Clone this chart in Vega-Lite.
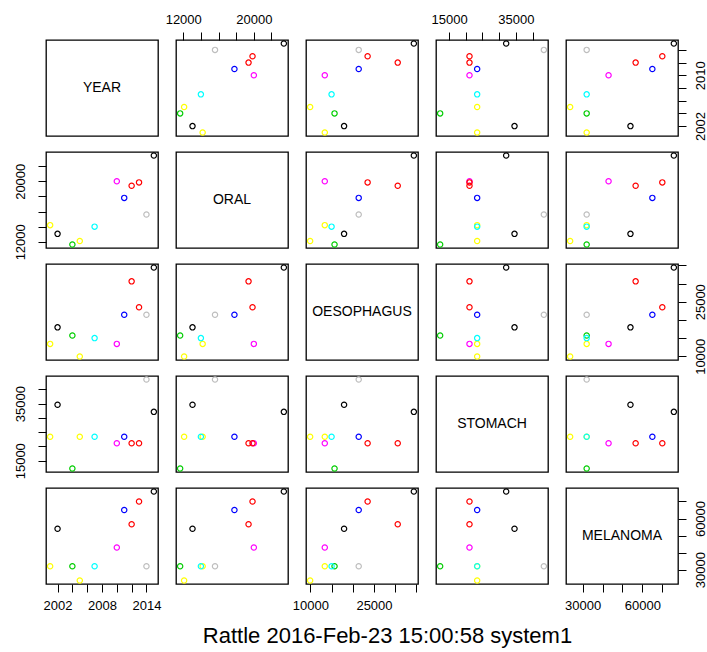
{
  "$schema": "https://vega.github.io/schema/vega-lite/v6.json",
  "padding": {"left": 13, "top": 12, "right": 0, "bottom": 5},
  "background": "white",
  "title": {"text": "Rattle 2016-Feb-23 15:00:58 system1", "orient": "bottom", "anchor": "middle", "font": "Liberation Sans", "fontSize": 22, "fontWeight": "normal", "color": "#000000", "offset": 13, "dx": 27},
  "datasets": {
    "cancer": [
      {"YEAR": 2001, "ORAL": 14200, "OESOPHAGUS": 13400, "STOMACH": 23400, "MELANOMA": 32000, "cluster": 7},
      {"YEAR": 2002, "ORAL": 13050, "OESOPHAGUS": 17950, "STOMACH": 34600, "MELANOMA": 54000, "cluster": 1},
      {"YEAR": 2004, "ORAL": 11650, "OESOPHAGUS": 15700, "STOMACH": 12300, "MELANOMA": 32000, "cluster": 3},
      {"YEAR": 2005, "ORAL": 12100, "OESOPHAGUS": 9950, "STOMACH": 23400, "MELANOMA": 23700, "cluster": 7},
      {"YEAR": 2007, "ORAL": 14000, "OESOPHAGUS": 15000, "STOMACH": 23400, "MELANOMA": 32000, "cluster": 5},
      {"YEAR": 2010, "ORAL": 20000, "OESOPHAGUS": 13400, "STOMACH": 21100, "MELANOMA": 43000, "cluster": 6},
      {"YEAR": 2011, "ORAL": 17800, "OESOPHAGUS": 21400, "STOMACH": 23400, "MELANOMA": 65000, "cluster": 4},
      {"YEAR": 2012, "ORAL": 19400, "OESOPHAGUS": 30600, "STOMACH": 21100, "MELANOMA": 56600, "cluster": 2},
      {"YEAR": 2013, "ORAL": 19850, "OESOPHAGUS": 23500, "STOMACH": 21100, "MELANOMA": 70000, "cluster": 2},
      {"YEAR": 2014, "ORAL": 15600, "OESOPHAGUS": 21400, "STOMACH": 43400, "MELANOMA": 32000, "cluster": 8},
      {"YEAR": 2015, "ORAL": 23400, "OESOPHAGUS": 34400, "STOMACH": 32100, "MELANOMA": 75800, "cluster": 1}
    ],
    "labels": [
      {"name": "YEAR"}, {"name": "ORAL"}, {"name": "OESOPHAGUS"}, {"name": "STOMACH"}, {"name": "MELANOMA"}
    ]
  },
  "data": {"name": "cancer"},
  "columns": 5,
  "spacing": {"row": 16, "column": 18},
  "bounds": "flush",
  "concat": [
    {"data": {"name": "labels"}, "transform": [{"filter": "datum.name == 'YEAR'"}], "mark": "text",
     "encoding": {"text": {"field": "name"}, "x": {"datum": 0.5, "type": "quantitative", "scale": {"domain": [0, 1]}, "axis": null}, "y": {"datum": 0.5, "type": "quantitative", "scale": {"domain": [0, 1]}, "axis": null}}},
    {"mark": "point", "encoding": {
      "x": {"field": "ORAL", "type": "quantitative", "scale": {"domain": [11180, 23870], "nice": false, "zero": false}, "axis": {"orient": "top", "title": null, "values": [12000, 14000, 16000, 18000, 20000, 22000], "labelExpr": "datum.value == 12000 || datum.value == 20000 ? '' + datum.value : ''", "labelAngle": 0, "labelPadding": 6}},
      "y": {"field": "YEAR", "type": "quantitative", "scale": {"domain": [2000.44, 2015.56], "nice": false, "zero": false}, "axis": null},
      "color": {"field": "cluster", "type": "nominal", "scale": {"domain": [1, 2, 3, 4, 5, 6, 7, 8], "range": ["#000000", "#FF0000", "#00CD00", "#0000FF", "#00FFFF", "#FF00FF", "#FFFF00", "#BEBEBE"]}, "legend": null}}},
    {"mark": "point", "encoding": {
      "x": {"field": "OESOPHAGUS", "type": "quantitative", "scale": {"domain": [8972, 35378], "nice": false, "zero": false}, "axis": null},
      "y": {"field": "YEAR", "type": "quantitative", "scale": {"domain": [2000.44, 2015.56], "nice": false, "zero": false}, "axis": null},
      "color": {"field": "cluster", "type": "nominal", "scale": {"domain": [1, 2, 3, 4, 5, 6, 7, 8], "range": ["#000000", "#FF0000", "#00CD00", "#0000FF", "#00FFFF", "#FF00FF", "#FFFF00", "#BEBEBE"]}, "legend": null}}},
    {"mark": "point", "encoding": {
      "x": {"field": "STOMACH", "type": "quantitative", "scale": {"domain": [11056, 44644], "nice": false, "zero": false}, "axis": {"orient": "top", "title": null, "values": [15000, 20000, 25000, 30000, 35000, 40000], "labelExpr": "datum.value == 15000 || datum.value == 35000 ? '' + datum.value : ''", "labelAngle": 0, "labelPadding": 6}},
      "y": {"field": "YEAR", "type": "quantitative", "scale": {"domain": [2000.44, 2015.56], "nice": false, "zero": false}, "axis": null},
      "color": {"field": "cluster", "type": "nominal", "scale": {"domain": [1, 2, 3, 4, 5, 6, 7, 8], "range": ["#000000", "#FF0000", "#00CD00", "#0000FF", "#00FFFF", "#FF00FF", "#FFFF00", "#BEBEBE"]}, "legend": null}}},
    {"mark": "point", "encoding": {
      "x": {"field": "MELANOMA", "type": "quantitative", "scale": {"domain": [21616, 77884], "nice": false, "zero": false}, "axis": null},
      "y": {"field": "YEAR", "type": "quantitative", "scale": {"domain": [2000.44, 2015.56], "nice": false, "zero": false}, "axis": {"orient": "right", "title": null, "values": [2002, 2004, 2006, 2008, 2010, 2012, 2014], "labelExpr": "datum.value == 2002 || datum.value == 2010 ? '' + datum.value : ''", "labelAngle": 270, "labelAlign": "center", "labelBaseline": "top", "labelPadding": 8}},
      "color": {"field": "cluster", "type": "nominal", "scale": {"domain": [1, 2, 3, 4, 5, 6, 7, 8], "range": ["#000000", "#FF0000", "#00CD00", "#0000FF", "#00FFFF", "#FF00FF", "#FFFF00", "#BEBEBE"]}, "legend": null}}},

    {"mark": "point", "encoding": {
      "x": {"field": "YEAR", "type": "quantitative", "scale": {"domain": [2000.44, 2015.56], "nice": false, "zero": false}, "axis": null},
      "y": {"field": "ORAL", "type": "quantitative", "scale": {"domain": [11180, 23870], "nice": false, "zero": false}, "axis": {"orient": "left", "title": null, "values": [12000, 14000, 16000, 18000, 20000, 22000], "labelExpr": "datum.value == 12000 || datum.value == 20000 ? '' + datum.value : ''", "labelAngle": 270, "labelAlign": "center", "labelBaseline": "bottom", "labelPadding": 11}},
      "color": {"field": "cluster", "type": "nominal", "scale": {"domain": [1, 2, 3, 4, 5, 6, 7, 8], "range": ["#000000", "#FF0000", "#00CD00", "#0000FF", "#00FFFF", "#FF00FF", "#FFFF00", "#BEBEBE"]}, "legend": null}}},
    {"data": {"name": "labels"}, "transform": [{"filter": "datum.name == 'ORAL'"}], "mark": "text",
     "encoding": {"text": {"field": "name"}, "x": {"datum": 0.5, "type": "quantitative", "scale": {"domain": [0, 1]}, "axis": null}, "y": {"datum": 0.5, "type": "quantitative", "scale": {"domain": [0, 1]}, "axis": null}}},
    {"mark": "point", "encoding": {
      "x": {"field": "OESOPHAGUS", "type": "quantitative", "scale": {"domain": [8972, 35378], "nice": false, "zero": false}, "axis": null},
      "y": {"field": "ORAL", "type": "quantitative", "scale": {"domain": [11180, 23870], "nice": false, "zero": false}, "axis": null},
      "color": {"field": "cluster", "type": "nominal", "scale": {"domain": [1, 2, 3, 4, 5, 6, 7, 8], "range": ["#000000", "#FF0000", "#00CD00", "#0000FF", "#00FFFF", "#FF00FF", "#FFFF00", "#BEBEBE"]}, "legend": null}}},
    {"mark": "point", "encoding": {
      "x": {"field": "STOMACH", "type": "quantitative", "scale": {"domain": [11056, 44644], "nice": false, "zero": false}, "axis": null},
      "y": {"field": "ORAL", "type": "quantitative", "scale": {"domain": [11180, 23870], "nice": false, "zero": false}, "axis": null},
      "color": {"field": "cluster", "type": "nominal", "scale": {"domain": [1, 2, 3, 4, 5, 6, 7, 8], "range": ["#000000", "#FF0000", "#00CD00", "#0000FF", "#00FFFF", "#FF00FF", "#FFFF00", "#BEBEBE"]}, "legend": null}}},
    {"mark": "point", "encoding": {
      "x": {"field": "MELANOMA", "type": "quantitative", "scale": {"domain": [21616, 77884], "nice": false, "zero": false}, "axis": null},
      "y": {"field": "ORAL", "type": "quantitative", "scale": {"domain": [11180, 23870], "nice": false, "zero": false}, "axis": null},
      "color": {"field": "cluster", "type": "nominal", "scale": {"domain": [1, 2, 3, 4, 5, 6, 7, 8], "range": ["#000000", "#FF0000", "#00CD00", "#0000FF", "#00FFFF", "#FF00FF", "#FFFF00", "#BEBEBE"]}, "legend": null}}},

    {"mark": "point", "encoding": {
      "x": {"field": "YEAR", "type": "quantitative", "scale": {"domain": [2000.44, 2015.56], "nice": false, "zero": false}, "axis": null},
      "y": {"field": "OESOPHAGUS", "type": "quantitative", "scale": {"domain": [8972, 35378], "nice": false, "zero": false}, "axis": null},
      "color": {"field": "cluster", "type": "nominal", "scale": {"domain": [1, 2, 3, 4, 5, 6, 7, 8], "range": ["#000000", "#FF0000", "#00CD00", "#0000FF", "#00FFFF", "#FF00FF", "#FFFF00", "#BEBEBE"]}, "legend": null}}},
    {"mark": "point", "encoding": {
      "x": {"field": "ORAL", "type": "quantitative", "scale": {"domain": [11180, 23870], "nice": false, "zero": false}, "axis": null},
      "y": {"field": "OESOPHAGUS", "type": "quantitative", "scale": {"domain": [8972, 35378], "nice": false, "zero": false}, "axis": null},
      "color": {"field": "cluster", "type": "nominal", "scale": {"domain": [1, 2, 3, 4, 5, 6, 7, 8], "range": ["#000000", "#FF0000", "#00CD00", "#0000FF", "#00FFFF", "#FF00FF", "#FFFF00", "#BEBEBE"]}, "legend": null}}},
    {"data": {"name": "labels"}, "transform": [{"filter": "datum.name == 'OESOPHAGUS'"}], "mark": "text",
     "encoding": {"text": {"field": "name"}, "x": {"datum": 0.5, "type": "quantitative", "scale": {"domain": [0, 1]}, "axis": null}, "y": {"datum": 0.5, "type": "quantitative", "scale": {"domain": [0, 1]}, "axis": null}}},
    {"mark": "point", "encoding": {
      "x": {"field": "STOMACH", "type": "quantitative", "scale": {"domain": [11056, 44644], "nice": false, "zero": false}, "axis": null},
      "y": {"field": "OESOPHAGUS", "type": "quantitative", "scale": {"domain": [8972, 35378], "nice": false, "zero": false}, "axis": null},
      "color": {"field": "cluster", "type": "nominal", "scale": {"domain": [1, 2, 3, 4, 5, 6, 7, 8], "range": ["#000000", "#FF0000", "#00CD00", "#0000FF", "#00FFFF", "#FF00FF", "#FFFF00", "#BEBEBE"]}, "legend": null}}},
    {"mark": "point", "encoding": {
      "x": {"field": "MELANOMA", "type": "quantitative", "scale": {"domain": [21616, 77884], "nice": false, "zero": false}, "axis": null},
      "y": {"field": "OESOPHAGUS", "type": "quantitative", "scale": {"domain": [8972, 35378], "nice": false, "zero": false}, "axis": {"orient": "right", "title": null, "values": [10000, 15000, 20000, 25000, 30000, 35000], "labelExpr": "datum.value == 10000 || datum.value == 25000 ? '' + datum.value : ''", "labelAngle": 270, "labelAlign": "center", "labelBaseline": "top", "labelPadding": 8}},
      "color": {"field": "cluster", "type": "nominal", "scale": {"domain": [1, 2, 3, 4, 5, 6, 7, 8], "range": ["#000000", "#FF0000", "#00CD00", "#0000FF", "#00FFFF", "#FF00FF", "#FFFF00", "#BEBEBE"]}, "legend": null}}},

    {"mark": "point", "encoding": {
      "x": {"field": "YEAR", "type": "quantitative", "scale": {"domain": [2000.44, 2015.56], "nice": false, "zero": false}, "axis": null},
      "y": {"field": "STOMACH", "type": "quantitative", "scale": {"domain": [11056, 44644], "nice": false, "zero": false}, "axis": {"orient": "left", "title": null, "values": [15000, 20000, 25000, 30000, 35000, 40000], "labelExpr": "datum.value == 15000 || datum.value == 35000 ? '' + datum.value : ''", "labelAngle": 270, "labelAlign": "center", "labelBaseline": "bottom", "labelPadding": 11}},
      "color": {"field": "cluster", "type": "nominal", "scale": {"domain": [1, 2, 3, 4, 5, 6, 7, 8], "range": ["#000000", "#FF0000", "#00CD00", "#0000FF", "#00FFFF", "#FF00FF", "#FFFF00", "#BEBEBE"]}, "legend": null}}},
    {"mark": "point", "encoding": {
      "x": {"field": "ORAL", "type": "quantitative", "scale": {"domain": [11180, 23870], "nice": false, "zero": false}, "axis": null},
      "y": {"field": "STOMACH", "type": "quantitative", "scale": {"domain": [11056, 44644], "nice": false, "zero": false}, "axis": null},
      "color": {"field": "cluster", "type": "nominal", "scale": {"domain": [1, 2, 3, 4, 5, 6, 7, 8], "range": ["#000000", "#FF0000", "#00CD00", "#0000FF", "#00FFFF", "#FF00FF", "#FFFF00", "#BEBEBE"]}, "legend": null}}},
    {"mark": "point", "encoding": {
      "x": {"field": "OESOPHAGUS", "type": "quantitative", "scale": {"domain": [8972, 35378], "nice": false, "zero": false}, "axis": null},
      "y": {"field": "STOMACH", "type": "quantitative", "scale": {"domain": [11056, 44644], "nice": false, "zero": false}, "axis": null},
      "color": {"field": "cluster", "type": "nominal", "scale": {"domain": [1, 2, 3, 4, 5, 6, 7, 8], "range": ["#000000", "#FF0000", "#00CD00", "#0000FF", "#00FFFF", "#FF00FF", "#FFFF00", "#BEBEBE"]}, "legend": null}}},
    {"data": {"name": "labels"}, "transform": [{"filter": "datum.name == 'STOMACH'"}], "mark": "text",
     "encoding": {"text": {"field": "name"}, "x": {"datum": 0.5, "type": "quantitative", "scale": {"domain": [0, 1]}, "axis": null}, "y": {"datum": 0.5, "type": "quantitative", "scale": {"domain": [0, 1]}, "axis": null}}},
    {"mark": "point", "encoding": {
      "x": {"field": "MELANOMA", "type": "quantitative", "scale": {"domain": [21616, 77884], "nice": false, "zero": false}, "axis": null},
      "y": {"field": "STOMACH", "type": "quantitative", "scale": {"domain": [11056, 44644], "nice": false, "zero": false}, "axis": null},
      "color": {"field": "cluster", "type": "nominal", "scale": {"domain": [1, 2, 3, 4, 5, 6, 7, 8], "range": ["#000000", "#FF0000", "#00CD00", "#0000FF", "#00FFFF", "#FF00FF", "#FFFF00", "#BEBEBE"]}, "legend": null}}},

    {"mark": "point", "encoding": {
      "x": {"field": "YEAR", "type": "quantitative", "scale": {"domain": [2000.44, 2015.56], "nice": false, "zero": false}, "axis": {"orient": "bottom", "title": null, "values": [2002, 2004, 2006, 2008, 2010, 2012, 2014], "labelExpr": "datum.value == 2002 || datum.value == 2008 || datum.value == 2014 ? '' + datum.value : ''", "labelAngle": 0, "labelPadding": 7}},
      "y": {"field": "MELANOMA", "type": "quantitative", "scale": {"domain": [21616, 77884], "nice": false, "zero": false}, "axis": null},
      "color": {"field": "cluster", "type": "nominal", "scale": {"domain": [1, 2, 3, 4, 5, 6, 7, 8], "range": ["#000000", "#FF0000", "#00CD00", "#0000FF", "#00FFFF", "#FF00FF", "#FFFF00", "#BEBEBE"]}, "legend": null}}},
    {"mark": "point", "encoding": {
      "x": {"field": "ORAL", "type": "quantitative", "scale": {"domain": [11180, 23870], "nice": false, "zero": false}, "axis": null},
      "y": {"field": "MELANOMA", "type": "quantitative", "scale": {"domain": [21616, 77884], "nice": false, "zero": false}, "axis": null},
      "color": {"field": "cluster", "type": "nominal", "scale": {"domain": [1, 2, 3, 4, 5, 6, 7, 8], "range": ["#000000", "#FF0000", "#00CD00", "#0000FF", "#00FFFF", "#FF00FF", "#FFFF00", "#BEBEBE"]}, "legend": null}}},
    {"mark": "point", "encoding": {
      "x": {"field": "OESOPHAGUS", "type": "quantitative", "scale": {"domain": [8972, 35378], "nice": false, "zero": false}, "axis": {"orient": "bottom", "title": null, "values": [10000, 15000, 20000, 25000, 30000, 35000], "labelExpr": "datum.value == 10000 || datum.value == 25000 ? '' + datum.value : ''", "labelAngle": 0, "labelPadding": 7}},
      "y": {"field": "MELANOMA", "type": "quantitative", "scale": {"domain": [21616, 77884], "nice": false, "zero": false}, "axis": null},
      "color": {"field": "cluster", "type": "nominal", "scale": {"domain": [1, 2, 3, 4, 5, 6, 7, 8], "range": ["#000000", "#FF0000", "#00CD00", "#0000FF", "#00FFFF", "#FF00FF", "#FFFF00", "#BEBEBE"]}, "legend": null}}},
    {"mark": "point", "encoding": {
      "x": {"field": "STOMACH", "type": "quantitative", "scale": {"domain": [11056, 44644], "nice": false, "zero": false}, "axis": null},
      "y": {"field": "MELANOMA", "type": "quantitative", "scale": {"domain": [21616, 77884], "nice": false, "zero": false}, "axis": null},
      "color": {"field": "cluster", "type": "nominal", "scale": {"domain": [1, 2, 3, 4, 5, 6, 7, 8], "range": ["#000000", "#FF0000", "#00CD00", "#0000FF", "#00FFFF", "#FF00FF", "#FFFF00", "#BEBEBE"]}, "legend": null}}},
    {"layer": [
      {"mark": {"type": "point", "opacity": 0}, "encoding": {
        "x": {"field": "MELANOMA", "type": "quantitative", "scale": {"domain": [21616, 77884], "nice": false, "zero": false}, "axis": {"orient": "bottom", "title": null, "values": [30000, 40000, 50000, 60000, 70000], "labelExpr": "datum.value == 30000 || datum.value == 60000 ? '' + datum.value : ''", "labelAngle": 0, "labelPadding": 7}},
        "y": {"field": "MELANOMA", "type": "quantitative", "scale": {"domain": [21616, 77884], "nice": false, "zero": false}, "axis": {"orient": "right", "title": null, "values": [30000, 40000, 50000, 60000, 70000], "labelExpr": "datum.value == 30000 || datum.value == 60000 ? '' + datum.value : ''", "labelAngle": 270, "labelAlign": "center", "labelBaseline": "top", "labelPadding": 8}}}},
      {"data": {"name": "labels"}, "transform": [{"filter": "datum.name == 'MELANOMA'"}], "mark": "text",
       "encoding": {"text": {"field": "name"}, "x": {"datum": 0.5, "type": "quantitative", "scale": {"domain": [0, 1]}, "axis": null}, "y": {"datum": 0.5, "type": "quantitative", "scale": {"domain": [0, 1]}, "axis": null}}}
    ], "resolve": {"scale": {"x": "independent", "y": "independent"}}}
  ],
  "config": {
    "view": {"stroke": "#000000", "strokeWidth": 1.3, "continuousWidth": 112, "continuousHeight": 96},
    "axis": {"domain": false, "grid": false, "ticks": true, "tickColor": "#000000", "tickSize": 8, "tickWidth": 1, "labelFont": "Liberation Sans", "labelFontSize": 13, "labelColor": "#000000", "labelOverlap": false, "labelBound": false, "labelFlush": false},
    "point": {"shape": "circle", "filled": false, "size": 28, "strokeWidth": 1.2, "opacity": 1},
    "text": {"font": "Liberation Sans", "fontSize": 14, "color": "#000000", "align": "center", "baseline": "middle"}
  }
}
